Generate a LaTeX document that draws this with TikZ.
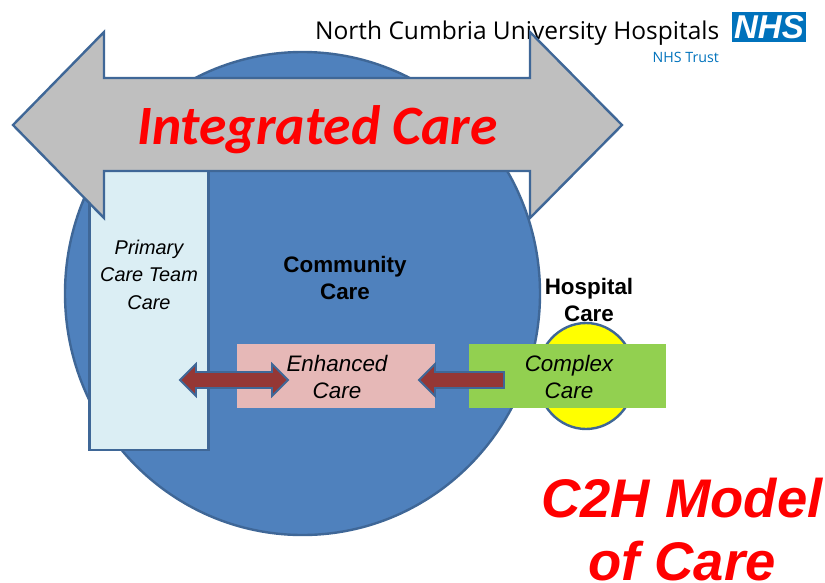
\documentclass[tikz,border=0pt]{standalone}
\usepackage{fontspec}
\setmainfont{Liberation Sans}
\newfontfamily\carl{Carlito}
\newfontfamily\logofont{Open Sans}
\definecolor{edgeblue}{HTML}{3F6797}
\definecolor{bigblue}{HTML}{4F81BD}
\definecolor{pale}{HTML}{DBEEF4}
\definecolor{pinkbox}{HTML}{E6B8B7}
\definecolor{greenbox}{HTML}{92D050}
\definecolor{brick}{HTML}{953735}
\definecolor{nhsblue}{HTML}{0072BC}
\definecolor{sun}{HTML}{FFFF00}
\definecolor{bigarrow}{HTML}{BFBFBF}
\tikzset{
  x=1pt,y=-1pt,
  outl/.style={draw=edgeblue,line width=2.4pt,line join=miter},
  lab/.style={font=\fontsize{22.4}{27}\selectfont\bfseries,align=center,text=black},
  ital/.style={font=\fontsize{22.4}{27}\selectfont\itshape,align=center,text=black},
  smallarrow/.style={outl,fill=brick,line width=1.8pt},
}
\begin{document}
\begin{tikzpicture}
\useasboundingbox (0,0) rectangle (825,582);
\clip (0,0) rectangle (825,582);
\node[anchor=base west,inner sep=0pt,font=\logofont\fontsize{24.5}{26}\selectfont] (logo) at (315,39) {North Cumbria University Hospitals};
\node[anchor=base east,inner sep=0pt,font=\logofont\fontsize{14.2}{16}\selectfont,text=nhsblue] (trust) at (719,62) {NHS Trust};
\node[anchor=north west,minimum width=74pt,minimum height=30pt,inner sep=0pt,outer sep=0pt,fill=nhsblue,text=white,font=\fontsize{33}{33}\selectfont\bfseries\itshape] (nhs) at (732,12) {NHS};
\path[fill=bigblue,outl] (302.5,293.5) ellipse [x radius=237.5,y radius=241.5];
\path[fill=sun,outl] (586,376) ellipse [x radius=49,y radius=53];
\node[anchor=north west,minimum width=119pt,minimum height=290pt,inner sep=0pt,outer sep=0pt,fill=pale,outl] (primary) at (89.5,160) {};
\node[ital,font=\fontsize{19.9}{27.5}\selectfont\itshape] (primarytxt) at (149,274.5) {Primary\\Care Team\\Care};
\fill[pinkbox] (237,344) rectangle (435,408);
\fill[greenbox] (469,344) rectangle (666,408);
\node[ital] (enh) at (337,377) {Enhanced\\Care};
\node[ital] (cpx) at (569,377) {Complex\\Care};
\node[lab] (comm) at (345,278) {Community\\Care};
\node[lab] (hosp) at (589,300) {Hospital\\Care};
\draw[smallarrow] (180,380)--(196,364)--(196,372)--(272,372)--(272,364)--(288,380)--(272,396)--(272,388)--(196,388)--(196,396)--cycle;
\draw[smallarrow] (419,380)--(435,364)--(435,372)--(504,372)--(504,388)--(435,388)--(435,396)--cycle;
\draw[outl,fill=bigarrow] (13,125)--(104,32)--(104,78)--(530,78)--(530,32)--(622,125)--(530,218)--(530,171)--(104,171)--(104,218)--cycle;
\node[inner sep=0pt,text=red,font=\carl\fontsize{55.5}{58}\selectfont\bfseries\itshape] (integ) at (317.5,130) {Integrated Care};
\node[inner sep=0pt,text=red,align=center,font=\fontsize{54.4}{63}\selectfont\bfseries\itshape] (c2h) at (682,530) {C2H Model\\of Care};
\end{tikzpicture}
\end{document}
